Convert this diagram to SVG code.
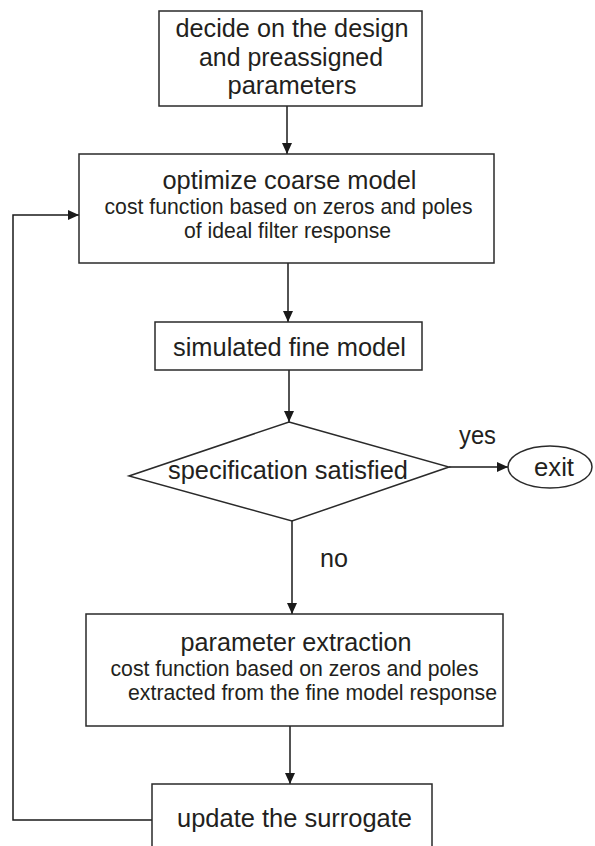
<svg xmlns="http://www.w3.org/2000/svg" width="595" height="846" viewBox="0 0 595 846">
<defs>
<marker id="arr" markerUnits="userSpaceOnUse" markerWidth="11" markerHeight="10" refX="11" refY="5" orient="auto">
<path d="M0,0 L11,5 L0,10 z" fill="#1a1a1a"/>
</marker>
<style>
.box{fill:#fff;stroke:#2a2a2a;stroke-width:1.5}
.main{font-family:"Liberation Sans",Arial,sans-serif;font-size:26.5px;fill:#231f20;text-anchor:middle}
.sub{font-family:"Liberation Sans",Arial,sans-serif;font-size:21.5px;fill:#231f20;text-anchor:middle}
.con{fill:none;stroke:#1a1a1a;stroke-width:1.5}
</style>
</defs>
<rect width="595" height="846" fill="#fff"/>
<g id="connectors">
<line class="con" x1="287" y1="106" x2="287" y2="154" marker-end="url(#arr)"/>
<line class="con" x1="288" y1="263" x2="288" y2="322" marker-end="url(#arr)"/>
<line class="con" x1="289" y1="370" x2="289" y2="422" marker-end="url(#arr)"/>
<line class="con" x1="449" y1="467" x2="508" y2="467" marker-end="url(#arr)"/>
<line class="con" x1="292" y1="521" x2="292" y2="614" marker-end="url(#arr)"/>
<line class="con" x1="290" y1="726" x2="290" y2="784" marker-end="url(#arr)"/>
<polyline class="con" points="152,820 13,820 13,215 79,215" marker-end="url(#arr)"/>
<text class="main" x="477.5" y="444" textLength="37" lengthAdjust="spacingAndGlyphs">yes</text>
<text class="main" x="334" y="567" textLength="28" lengthAdjust="spacingAndGlyphs">no</text>
</g>
<g id="decide">
<rect class="box" x="159" y="11" width="263" height="95"/>
<text class="main" x="292" y="37" textLength="233" lengthAdjust="spacingAndGlyphs">decide on the design</text>
<text class="main" x="291" y="66" textLength="184" lengthAdjust="spacingAndGlyphs">and preassigned</text>
<text class="main" x="292" y="94" textLength="129" lengthAdjust="spacingAndGlyphs">parameters</text>
</g>
<g id="optimize">
<rect class="box" x="79" y="154" width="415" height="109"/>
<text class="main" x="289.5" y="189" textLength="254" lengthAdjust="spacingAndGlyphs">optimize coarse model</text>
<text class="sub" x="288.5" y="214" textLength="368" lengthAdjust="spacingAndGlyphs">cost function based on zeros and poles</text>
<text class="sub" x="287.5" y="238" textLength="207" lengthAdjust="spacingAndGlyphs">of ideal filter response</text>
</g>
<g id="simulate">
<rect class="box" x="155" y="322" width="267" height="48"/>
<text class="main" x="289.5" y="356" textLength="233" lengthAdjust="spacingAndGlyphs">simulated fine model</text>
</g>
<g id="decision">
<polygon class="box" points="289,422 449,467 292,521 129,476"/>
<text class="main" x="288" y="479" textLength="240" lengthAdjust="spacingAndGlyphs">specification satisfied</text>
</g>
<g id="exit">
<ellipse class="box" cx="550" cy="467" rx="42" ry="21"/>
<text class="main" x="554" y="476" textLength="40" lengthAdjust="spacingAndGlyphs">exit</text>
</g>
<g id="extraction">
<rect class="box" x="86" y="614" width="417" height="112"/>
<text class="main" x="296" y="651" textLength="231" lengthAdjust="spacingAndGlyphs">parameter extraction</text>
<text class="sub" x="294.5" y="676" textLength="368" lengthAdjust="spacingAndGlyphs">cost function based on zeros and poles</text>
<text class="sub" x="312.5" y="700" textLength="369" lengthAdjust="spacingAndGlyphs">extracted from the fine model response</text>
</g>
<g id="update">
<rect class="box" x="152" y="784" width="280" height="90"/>
<text class="main" x="294.5" y="827" textLength="235" lengthAdjust="spacingAndGlyphs">update the surrogate</text>
</g>
</svg>
